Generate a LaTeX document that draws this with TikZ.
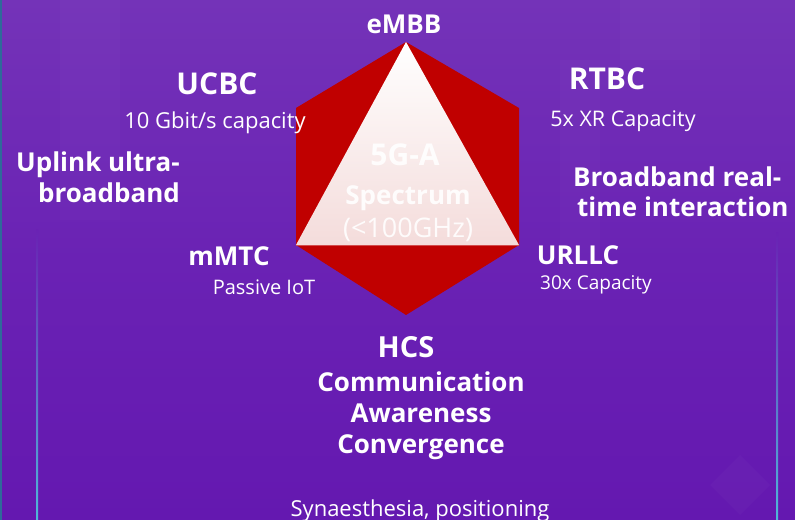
\documentclass[tikz,border=0pt]{standalone}
\usepackage{fontspec}
\setmainfont{Open Sans}
\definecolor{bgtop}{HTML}{7433B8}
\definecolor{bgmid}{HTML}{6A22B4}
\definecolor{bgbot}{HTML}{6418B0}
\definecolor{hexred}{HTML}{C00000}
\definecolor{tripink}{HTML}{F4DCDB}
\definecolor{linecyan}{HTML}{4FB8D8}
\definecolor{edgeteal}{HTML}{2F6A9A}
\tikzset{
  lbl/.style={inner sep=0pt, text=white, anchor=base},
  big/.style={lbl, font=\bfseries\fontsize{30bp}{34bp}\selectfont},
  mid/.style={lbl, font=\bfseries\fontsize{26bp}{30bp}\selectfont},
  small/.style={lbl, font=\fontsize{21bp}{25bp}\selectfont},
  inner/.style={lbl, text=white, text opacity=0.9},
}
\begin{document}
\begin{tikzpicture}[x=1bp,y=-1bp]
\useasboundingbox (0,0) rectangle (795,520);
% background
\shade[top color=bgtop, bottom color=bgbot, middle color=bgmid] (0,0) rectangle (795,520);
\fill[edgeteal] (0,0) rectangle (2,520);
\fill[white, opacity=0.015] (60,0) rectangle (120,220);
\fill[white, opacity=0.015] (560,60) rectangle (600,300);
\fill[white, opacity=0.02] (620,0) rectangle (700,60);
% vertical lines
\shade[top color=bgmid, bottom color=linecyan] (36,230) rectangle (38,520);
\shade[top color=bgmid, bottom color=linecyan] (776,233) rectangle (778,520);
% faint diamond
\fill[white, opacity=0.025] (740,455) -- (770,485) -- (740,515) -- (710,485) -- cycle;
% hexagon and triangle
\coordinate (t) at (406,42);
\coordinate (ur) at (519,108);
\coordinate (lr) at (519,245);
\coordinate (b) at (406,315);
\coordinate (ll) at (296,245);
\coordinate (ul) at (296,108);
\fill[hexred] (t) -- (ur) -- (lr) -- (b) -- (ll) -- (ul) -- cycle;
\shade[top color=white, bottom color=tripink] (t) -- (lr) -- (ll) -- cycle;
\draw[hexred!70, line width=0.6bp] (ll) -- (lr);
% inner text
\node[inner, font=\bfseries\fontsize{30bp}{34bp}\selectfont] (g5) at (405,166) {5G-A};
\node[inner, font=\bfseries\fontsize{26bp}{30bp}\selectfont] (spec) at (408,205) {Spectrum};
\node[inner, font=\fontsize{27bp}{31bp}\selectfont] (ghz) at (408,238) {(<100GHz)};
% labels
\node[mid] (embb) at (404,34) {eMBB};
\node[big] (ucbc) at (217,95) {UCBC};
\node[small, font=\fontsize{22bp}{26bp}\selectfont] (ucbcd) at (215,129) {10 Gbit/s capacity};
\node[mid, anchor=base east] (up1) at (180,172) {Uplink ultra-};
\node[mid, anchor=base east] (up2) at (180,203) {broadband};
\node[big] (rtbc) at (607,90) {RTBC};
\node[small, font=\fontsize{21.5bp}{25bp}\selectfont] (rtbcd) at (623,127) {5x XR Capacity};
\node[mid, anchor=base west] (bb1) at (573,187) {Broadband real-};
\node[mid, anchor=base west] (bb2) at (577,217) {time interaction};
\node[mid] (mmtc) at (229,266) {mMTC};
\node[small, font=\fontsize{20bp}{24bp}\selectfont] (mmtcd) at (264,295) {Passive IoT};
\node[mid] (urllc) at (578,265) {URLLC};
\node[small, font=\fontsize{19bp}{23bp}\selectfont] (urllcd) at (596,290) {30x Capacity};
\node[big, font=\bfseries\fontsize{29bp}{33bp}\selectfont] (hcs) at (406,357) {HCS};
\node[mid] (c1) at (421,391) {Communication};
\node[mid] (c2) at (421,422) {Awareness};
\node[mid] (c3) at (421,453) {Convergence};
\node[small, font=\fontsize{22bp}{26bp}\selectfont] (syn) at (420,516) {Synaesthesia, positioning};
\end{tikzpicture}
\end{document}
